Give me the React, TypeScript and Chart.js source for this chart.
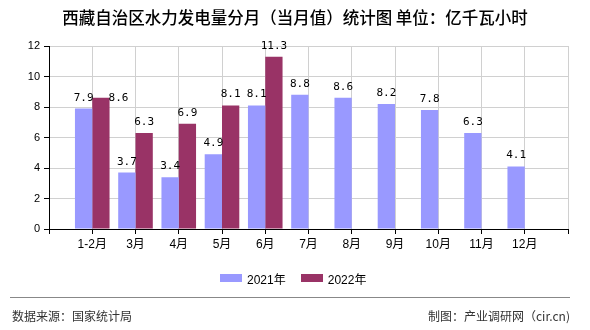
import React, { useEffect, useRef } from "react";
import { Chart, registerables } from "chart.js";

Chart.register(...registerables);

const categories = ["1-2月", "3月", "4月", "5月", "6月", "7月", "8月", "9月", "10月", "11月", "12月"];
const values2021 = [7.9, 3.7, 3.4, 4.9, 8.1, 8.8, 8.6, 8.2, 7.8, 6.3, 4.1];
const values2022: (number | null)[] = [8.6, 6.3, 6.9, 8.1, 11.3, null, null, null, null, null, null];
const seriesNames = ["2021年", "2022年"];
const seriesColors = ["#9999ff", "#993366"];
const yTicks = [0, 2, 4, 6, 8, 10, 12];

const title = "西藏自治区水力发电量分月（当月值）统计图 单位：亿千瓦小时";
const sourceText = "数据来源：国家统计局";
const creditText = "制图：产业调研网（cir.cn)";

const labelFont = "11px 'DejaVu Sans Mono', monospace";

const dataLabelPlugin = {
  id: "dataLabels",
  afterDatasetsDraw(chart: any) {
    const ctx = chart.ctx;
    ctx.save();
    ctx.font = labelFont;
    ctx.fillStyle = "#000";
    ctx.textBaseline = "alphabetic";
    chart.data.datasets.forEach((ds: any, di: number) => {
      const meta = chart.getDatasetMeta(di);
      meta.data.forEach((bar: any, i: number) => {
        const v = ds.data[i]?.y;
        if (v === null || v === undefined) return;
        const text = v.toFixed(1);
        // label beside the bar when it would crowd the neighbouring label
        if (di === 1 && i === 0) {
          ctx.textAlign = "left";
          ctx.fillText(text, bar.x + bar.width / 2 - 1, bar.y + 3);
        } else {
          ctx.textAlign = "center";
          ctx.fillText(text, bar.x, bar.y - 8);
        }
      });
    });
    ctx.restore();
  },
};

export default function App() {
  const canvasRef = useRef<HTMLCanvasElement | null>(null);

  useEffect(() => {
    if (!canvasRef.current) return;
    const chart = new Chart(canvasRef.current, {
      type: "bar",
      data: {
        datasets: [
          {
            label: seriesNames[0],
            data: values2021.map((y, i) => ({ x: i + 1, y })),
            backgroundColor: seriesColors[0],
          },
          {
            label: seriesNames[1],
            data: values2022.map((y, i) => ({ x: i + 1, y })),
            backgroundColor: seriesColors[1],
          },
        ] as any,
      },
      options: {
        animation: false,
        responsive: false,
        maintainAspectRatio: false,
        datasets: { bar: { barPercentage: 1, categoryPercentage: 0.8 } },
        layout: { padding: { top: 46, right: 22, left: 0, bottom: 0 } },
        plugins: {
          legend: { display: false },
          title: { display: false },
          tooltip: { enabled: false },
        },
        scales: {
          x: {
            type: "linear",
            offset: false,
            min: 0,
            max: categories.length + 1,
            afterFit(scale: any) {
              scale.height = 101;
            },
            afterBuildTicks(scale: any) {
              const t = [];
              for (let k = 0; k <= categories.length + 1; k++) t.push({ value: k });
              scale.ticks = t;
            },
            ticks: {
              autoSkip: false,
              maxRotation: 0,
              padding: 3,
              color: "#000",
              font: { family: "'Liberation Sans', 'Noto Sans CJK SC', sans-serif", size: 12 },
              callback: (v: any) => categories[Number(v) - 1] ?? "",
            },
            grid: { offset: false, color: "#d0d0d0", tickColor: "#000", tickLength: 5, lineWidth: 1 },
            border: { color: "#000", width: 1 },
          },
          y: {
            min: 0,
            max: 12,
            afterFit(scale: any) {
              scale.width = 49;
            },
            afterBuildTicks(scale: any) {
              scale.ticks = yTicks.map((value) => ({ value }));
            },
            ticks: {
              padding: 4,
              color: "#000",
              font: { family: "'Liberation Sans', sans-serif", size: 11 },
            },
            grid: { color: "#d0d0d0", tickColor: "#000", tickLength: 5, lineWidth: 1 },
            border: { color: "#000", width: 1 },
          },
        },
      } as any,
      plugins: [dataLabelPlugin],
    });
    return () => chart.destroy();
  }, []);

  const cjk = "'Noto Sans CJK SC', sans-serif";

  return (
    <div
      style={{
        position: "absolute",
        left: 0,
        top: 0,
        width: 590,
        height: 330,
        background: "#fff",
        overflow: "hidden",
      }}
    >
      <canvas ref={canvasRef} width={590} height={330} style={{ position: "absolute", left: 0, top: 0 }} />
      <div
        style={{
          position: "absolute",
          left: 0,
          top: 7,
          width: 590,
          textAlign: "center",
          fontFamily: cjk,
          fontSize: 16.5,
          fontWeight: 500,
          lineHeight: "20px",
          color: "#000",
          whiteSpace: "nowrap",
        }}
      >
        {title}
      </div>
      <div
        style={{
          position: "absolute",
          left: 220,
          top: 270,
          height: 16,
          display: "flex",
          alignItems: "center",
          fontFamily: "'Liberation Sans', " + cjk,
          fontSize: 12,
          color: "#000",
          whiteSpace: "nowrap",
        }}
      >
        {seriesNames.map((n, i) => (
          <span key={n} style={{ display: "flex", alignItems: "center", marginRight: i === 0 ? 15 : 0 }}>
            <span style={{ display: "inline-block", width: 22, height: 8, background: seriesColors[i], marginRight: 5 }} />
            <span>{n}</span>
          </span>
        ))}
      </div>
      <div style={{ position: "absolute", left: 10, top: 297, width: 560, height: 1, background: "#888" }} />
      <div
        style={{
          position: "absolute",
          left: 12,
          top: 308,
          fontFamily: cjk,
          fontSize: 12,
          lineHeight: "16px",
          color: "#333",
          whiteSpace: "nowrap",
        }}
      >
        {sourceText}
      </div>
      <div
        style={{
          position: "absolute",
          right: 20,
          top: 308,
          fontFamily: cjk,
          fontSize: 12,
          lineHeight: "16px",
          color: "#333",
          whiteSpace: "nowrap",
        }}
      >
        {creditText}
      </div>
    </div>
  );
}
